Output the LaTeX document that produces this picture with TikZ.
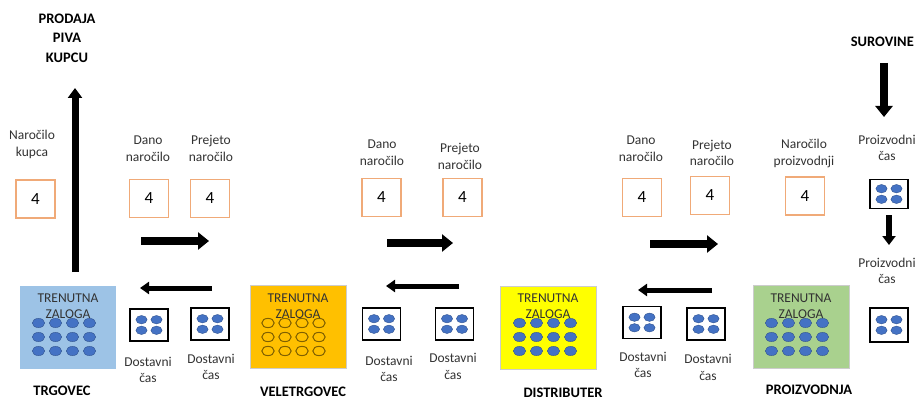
\documentclass[tikz,border=0pt]{standalone}
\usepackage{fontspec}
\setmainfont{Carlito}
\usetikzlibrary{arrows.meta,calc}
\definecolor{ordcol}{RGB}{240,170,120}
\definecolor{dotblue}{RGB}{68,114,196}
\definecolor{dotedge}{RGB}{47,82,143}
\definecolor{invblue}{RGB}{157,195,230}
\definecolor{invorange}{RGB}{255,192,0}
\definecolor{invyellow}{RGB}{255,255,0}
\definecolor{invgreen}{RGB}{169,209,142}
\definecolor{hollow}{RGB}{128,96,0}
\definecolor{txt}{RGB}{50,50,50}
\newcommand{\lblfont}{\fontsize{13.5}{16.5}\selectfont}
\newcommand{\bldfont}{\fontsize{14.5}{19.5}\selectfont\bfseries}
\newcommand{\numfont}{\fontsize{17}{20}\selectfont}
\tikzset{
  lbl/.style={font=\lblfont, text=txt, align=center, inner sep=0pt},
  bld/.style={font=\bldfont, text=black, align=center, inner sep=0pt},
  ordbox/.style={draw=ordcol, line width=1.4pt, minimum width=39pt, minimum height=38pt, font=\numfont, text=black, inner sep=0pt},
  delbox/.style={draw=black, line width=1.2pt, minimum width=38pt, minimum height=32pt, inner sep=0pt},
  invbox/.style={draw=black!20, line width=0.5pt, minimum width=96pt, minimum height=83pt, inner sep=0pt},
  invtext/.style={font=\lblfont, text=txt, align=center, inner sep=0pt},
  arrR/.style={line width=8pt, -{Triangle[length=11pt,width=17pt]}},
  arrL/.style={line width=5pt, -{Triangle[length=9pt,width=12pt]}},
  arrUp/.style={line width=7pt, -{Triangle[length=10pt,width=14pt]}},
  arrDn/.style={line width=8pt, -{Triangle[length=11pt,width=17pt]}},
  arrDs/.style={line width=5.5pt, -{Triangle[length=9pt,width=13pt]}},
}
% dots of an inventory box: #1 = centre x, #2 = fill style
\newcommand{\invdots}[2]{%
  \foreach \i in {-1.5,-0.5,0.5,1.5}{
    \foreach \j in {323,337,351}{
      \path[#2] (#1+\i*17,\j) ellipse [x radius=6.2pt, y radius=4.6pt];
    }
  }%
}
\newcommand{\deldots}[1]{%
  \foreach \i in {-1,1}{
    \foreach \j in {-1,1}{
      \path[fill=dotblue, draw=dotedge, line width=0.4pt] ($(#1)+(\i*7.5,\j*5.3)$) ellipse [x radius=5.6pt, y radius=4.2pt];
    }
  }%
}
\begin{document}
\begin{tikzpicture}[x=1pt,y=-1pt]
\useasboundingbox (0,0) rectangle (916,401);
% ---------- TRGOVEC ----------
\node[bld] (prodaja) at (67,38) {PRODAJA\\PIVA\\KUPCU};
\coordinate (upS) at (75,272);
\coordinate (upE) at (75,88);
\draw[arrUp] (upS) -- (upE);
\node[lbl] (lk) at (32,144.5) {Naročilo\\kupca};
\node[ordbox] (ok) at (35.5,199) {4};
\node[lbl] (ld1) at (148,148.5) {Dano\\naročilo};
\node[ordbox] (od1) at (149,198.5) {4};
\node[lbl] (lp1) at (211,148.5) {Prejeto\\naročilo};
\node[ordbox] (op1) at (210,198.5) {4};
\coordinate (r1s) at (141,241); \coordinate (r1e) at (209,241);
\draw[arrR] (r1s) -- (r1e);
\coordinate (l1s) at (212,288); \coordinate (l1e) at (140,288);
\draw[arrL] (l1s) -- (l1e);
\node[invbox, fill=invblue, draw=none] (inv1) at (68,327) {};
\invdots{64}{fill=dotblue, draw=dotedge, line width=0.4pt}
\node[invtext] (inv1t) at (68,306) {TRENUTNA\\ZALOGA};
\node[delbox] (d1a) at (149,325) {};
\deldots{d1a}
\node[delbox] (d1b) at (210,324) {};
\deldots{d1b}
\node[lbl] (ld1a) at (148,370) {Dostavni\\čas};
\node[lbl] (ld1b) at (211,367) {Dostavni\\čas};
\node[bld] (trg) at (62,391) {TRGOVEC};
% ---------- VELETRGOVEC ----------
\node[lbl] (ld2) at (382,152.5) {Dano\\naročilo};
\node[ordbox] (od2) at (381.5,197.5) {4};
\node[lbl] (lp2) at (460,156.5) {Prejeto\\naročilo};
\node[ordbox] (op2) at (462.5,197.5) {4};
\coordinate (r2s) at (387,243); \coordinate (r2e) at (453,243);
\draw[arrR] (r2s) -- (r2e);
\coordinate (l2s) at (459,286); \coordinate (l2e) at (386,286);
\draw[arrL] (l2s) -- (l2e);
\node[invbox, fill=invorange] (inv2) at (298,327) {};
\invdots{293.5}{draw=hollow, line width=1pt}
\node[invtext] (inv2t) at (298,306) {TRENUTNA\\ZALOGA};
\node[delbox] (d2a) at (381.5,324) {};
\deldots{d2a}
\node[delbox] (d2b) at (454.5,324) {};
\deldots{d2b}
\node[lbl] (ld2a) at (389,369) {Dostavni\\čas};
\node[lbl] (ld2b) at (453,366.5) {Dostavni\\čas};
\node[bld] (vel) at (303,392) {VELETRGOVEC};
% ---------- DISTRIBUTER ----------
\node[lbl] (ld3) at (641,148.5) {Dano\\naročilo};
\node[ordbox] (od3) at (642,197.5) {4};
\node[lbl] (lp3) at (712,153) {Prejeto\\naročilo};
\node[ordbox] (op3) at (710,195.5) {4};
\coordinate (r3s) at (650,244); \coordinate (r3e) at (718,244);
\draw[arrR] (r3s) -- (r3e);
\coordinate (l3s) at (712,290); \coordinate (l3e) at (638,290);
\draw[arrL] (l3s) -- (l3e);
\node[invbox, fill=invyellow] (inv3) at (548,327.5) {};
\invdots{545}{fill=dotblue, draw=dotedge, line width=0.4pt}
\node[invtext] (inv3t) at (548,306) {TRENUTNA\\ZALOGA};
\node[delbox] (d3a) at (642,322.5) {};
\deldots{d3a}
\node[delbox] (d3b) at (706,324) {};
\deldots{d3b}
\node[lbl] (ld3a) at (643,365) {Dostavni\\čas};
\node[lbl] (ld3b) at (708,367.5) {Dostavni\\čas};
\node[bld] (dist) at (563,393) {DISTRIBUTER};
% ---------- PROIZVODNJA ----------
\node[bld, anchor=east] (sur) at (914,42) {SUROVINE};
\coordinate (dns) at (884,63); \coordinate (dne) at (884,117);
\draw[arrDn] (dns) -- (dne);
\node[lbl] (lop) at (804,153.5) {Naročilo\\proizvodnji};
\node[ordbox] (op) at (805,196) {4};
\node[lbl] (lpc1) at (887,148) {Proizvodni\\čas};
\node[delbox, minimum height=29pt] (pc1) at (889,194) {};
\deldots{pc1}
\coordinate (dss) at (889,215); \coordinate (dse) at (889,245);
\draw[arrDs] (dss) -- (dse);
\node[lbl] (lpc2) at (887,271) {Proizvodni\\čas};
\node[delbox, minimum height=34pt] (pc2) at (889,325) {};
\deldots{pc2}
\node[invbox, fill=invgreen] (inv4) at (801,327) {};
\invdots{797}{fill=dotblue, draw=dotedge, line width=0.4pt}
\node[invtext] (inv4t) at (801,306) {TRENUTNA\\ZALOGA};
\node[bld] (proi) at (809,390) {PROIZVODNJA};
\end{tikzpicture}
\end{document}
